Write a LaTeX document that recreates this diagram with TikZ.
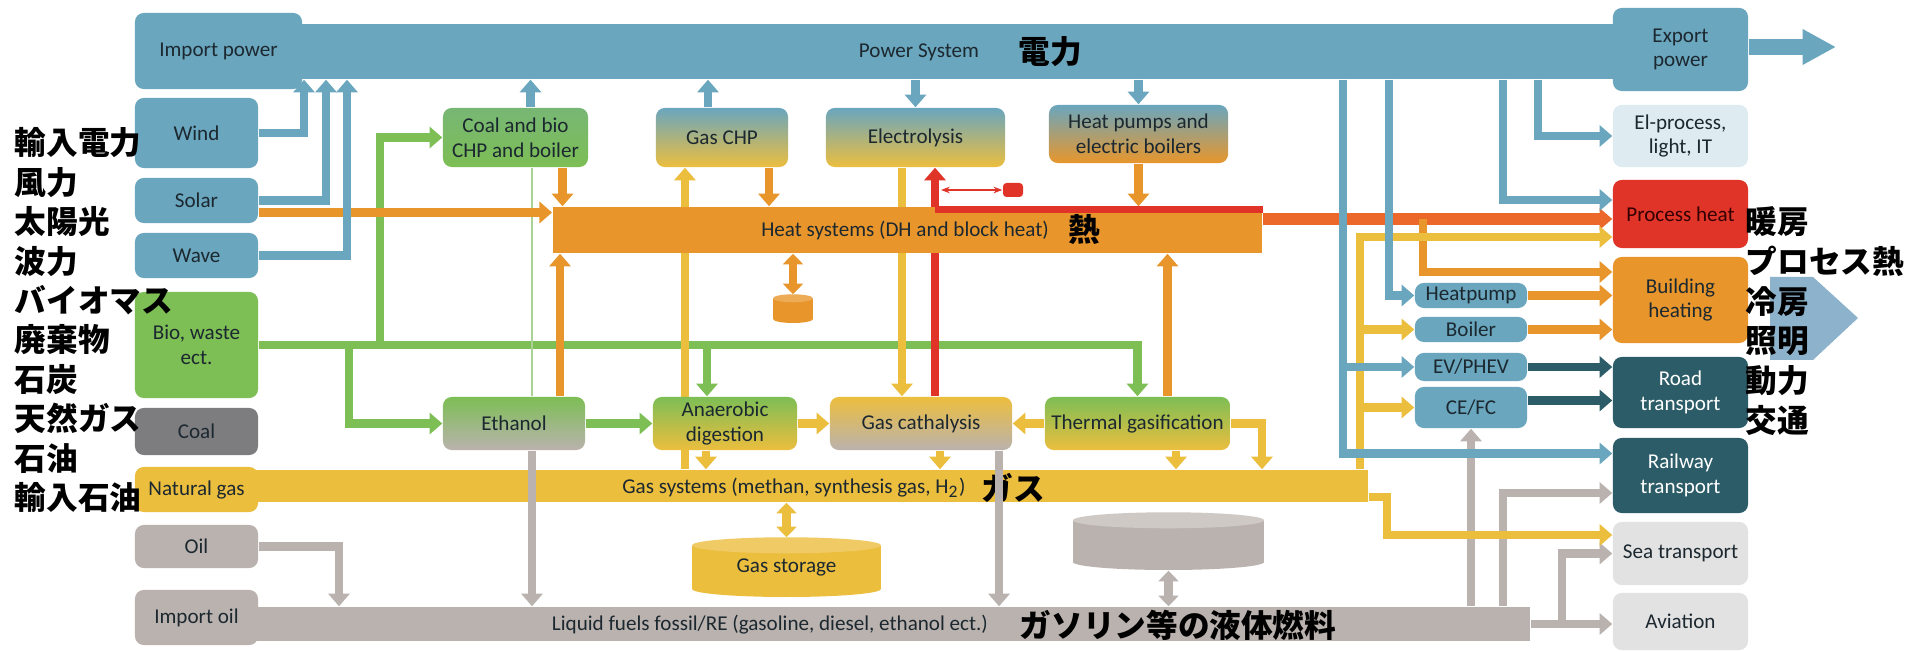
\documentclass[tikz,border=0pt]{standalone}
\usepackage{fontspec}
\setmainfont{Carlito}
\newfontfamily\cjk{Noto Sans CJK JP}
\usetikzlibrary{arrows.meta,backgrounds}

\definecolor{pblue}{RGB}{106,166,190}
\definecolor{bgreen}{RGB}{125,190,85}
\definecolor{lgreen}{RGB}{170,210,150}
\definecolor{coalgray}{RGB}{125,125,128}
\definecolor{gyellow}{RGB}{236,190,62}
\definecolor{oilgray}{RGB}{186,178,174}
\definecolor{horange}{RGB}{232,150,44}
\definecolor{hred}{RGB}{224,52,40}
\definecolor{ored}{RGB}{236,104,42}
\definecolor{dteal}{RGB}{44,92,104}
\definecolor{paleblue}{RGB}{222,236,242}
\definecolor{lgray}{RGB}{226,226,226}
\definecolor{chev}{RGB}{140,178,204}
\definecolor{boxtext}{RGB}{28,40,48}

\newcommand\lbl{\fontsize{6}{7}\selectfont}
\newcommand\jp{\cjk\bfseries\fontsize{9}{10}\selectfont}

\tikzset{
    box/.style={rounded corners=2.5pt, align=center, inner sep=1pt, font=\lbl, text=boxtext},
    barbox/.style={inner sep=0pt},
    jplabel/.style={font=\jp, inner sep=0pt, anchor=west},
    flowline/.style={line width=2.5pt, -{Triangle[length=3.6pt,width=6pt]}},
    twoway/.style={line width=2.5pt, {Triangle[length=3pt,width=5.6pt]}-{Triangle[length=3pt,width=5.6pt]}},
}

\begin{document}
\begin{tikzpicture}[x=0.01cm, y=-0.01cm]
        \useasboundingbox (0,0) rectangle (1911,652);
        \begin{pgfonlayer}{background}
            \fill[white] (0,0) rectangle (1911,652);
        \end{pgfonlayer}

        % the four systems
        \node[barbox, fill=pblue, minimum width=13.3cm, minimum height=.55cm] (power) at (951,51.5) {};
        \node[barbox, fill=horange, minimum width=7.09cm, minimum height=.46cm] (heat) at (907.5,230) {};
        \node[barbox, fill=gyellow, minimum width=11.18cm, minimum height=.32cm] (gas) at (809,486) {};
        \node[barbox, fill=oilgray, minimum width=12.8cm, minimum height=.34cm] (liquid) at (890,624) {};

        \node[font=\lbl, text=boxtext] (powerlbl) at (919,52) {Power System};
        \node[font=\jp] (powerjp) at (1050,52) {電力};
        \node[font=\lbl, text=boxtext] (heatlbl) at (905,230) {Heat systems (DH and block heat)};
        \node[font=\jp] (heatjp) at (1084,230) {熱};
        \node[font=\lbl, text=boxtext] (gaslbl) at (794,488) {Gas systems (methan, synthesis gas, H\textsubscript{2})};
        \node[font=\jp] (gasjp) at (1013,488) {ガス};
        \node[font=\lbl, text=boxtext] (liquidlbl) at (770,625) {Liquid fuels fossil/RE (gasoline, diesel, ethanol ect.)};
        \node[font=\jp] (liquidjp) at (1178,625) {ガソリン等の液体燃料};

        % sources
        \node[box, fill=pblue, minimum width=1.67cm, minimum height=.76cm] (importp) at (218.5,51) {Import power};
        \node[box, fill=pblue, minimum width=1.23cm, minimum height=.70cm] (wind) at (196.5,133) {Wind};
        \node[box, fill=pblue, minimum width=1.23cm, minimum height=.45cm] (solar) at (196.5,200.5) {Solar};
        \node[box, fill=pblue, minimum width=1.23cm, minimum height=.45cm] (wave) at (196.5,255.5) {Wave};
        \node[box, fill=bgreen, minimum width=1.23cm, minimum height=1.06cm] (bio) at (196.5,345) {Bio, waste\\ect.};
        \node[box, fill=coalgray, minimum width=1.23cm, minimum height=.47cm] (coal) at (196.5,431.5) {Coal};
        \node[box, fill=gyellow, minimum width=1.23cm, minimum height=.45cm] (natgas) at (196.5,489.5) {Natural gas};
        \node[box, fill=oilgray, minimum width=1.23cm, minimum height=.43cm] (oil) at (196.5,546.5) {Oil};
        \node[box, fill=oilgray, minimum width=1.23cm, minimum height=.55cm] (importoil) at (196.5,617.5) {Import oil};

        % conversion
        \node[box, top color=bgreen!70!pblue, bottom color=bgreen, minimum width=1.45cm, minimum height=.59cm] (coalchp) at (515.5,137.5) {Coal and bio\\CHP and boiler};
        \node[box, top color=pblue, bottom color=gyellow, minimum width=1.32cm, minimum height=.59cm] (gaschp) at (722,137.5) {Gas CHP};
        \node[box, top color=pblue, bottom color=gyellow, minimum width=1.79cm, minimum height=.59cm] (electro) at (915.5,137.5) {Electrolysis};
        \node[box, top color=pblue, bottom color=horange, minimum width=1.79cm, minimum height=.58cm] (heatpumps) at (1138.5,134) {Heat pumps and\\electric boilers};
        \node[box, top color=bgreen, bottom color=oilgray, minimum width=1.42cm, minimum height=.53cm] (ethanol) at (514,423.5) {Ethanol};
        \node[box, top color=bgreen, bottom color=gyellow, minimum width=1.44cm, minimum height=.53cm] (anaerobic) at (725,423.5) {Anaerobic\\digestion};
        \node[box, top color=gyellow, bottom color=oilgray, minimum width=1.82cm, minimum height=.53cm] (gascat) at (921,423.5) {Gas cathalysis};
        \node[box, top color=bgreen, bottom color=gyellow, minimum width=1.85cm, minimum height=.53cm] (thermal) at (1137.5,423.5) {Thermal gasification};

        \node[box, fill=pblue, minimum width=1.12cm, minimum height=.25cm] (heatpump) at (1471,295.5) {Heatpump};
        \node[box, fill=pblue, minimum width=1.12cm, minimum height=.25cm] (boiler) at (1471,329.5) {Boiler};
        \node[box, fill=pblue, minimum width=1.12cm, minimum height=.28cm] (evphev) at (1471,367) {EV/PHEV};
        \node[box, fill=pblue, minimum width=1.12cm, minimum height=.41cm] (cefc) at (1471,407.5) {CE/FC};

        % storages
        \fill[horange] (793,319) ellipse (.2cm and .04cm);
        \node[barbox, fill=horange, minimum width=.4cm, minimum height=.2cm] (heatstore) at (793,309) {};
        \fill[horange!80!white] (heatstore.north) ellipse (.2cm and .04cm);
        \fill[gyellow] (786.5,589) ellipse (.945cm and .08cm);
        \node[barbox, fill=gyellow, minimum width=1.89cm, minimum height=.43cm, font=\lbl, text=boxtext] (gasstore) at (786.5,567.5) {Gas storage};
        \fill[gyellow!80!white] (gasstore.north) ellipse (.945cm and .08cm);
        \fill[oilgray] (1168.5,562) ellipse (.955cm and .08cm);
        \node[barbox, fill=oilgray, minimum width=1.91cm, minimum height=.41cm] (oilstore) at (1168.5,541.5) {};
        \fill[oilgray!70!white] (oilstore.north) ellipse (.955cm and .08cm);
        \node[fill=hred, minimum width=.2cm, minimum height=.14cm, inner sep=0pt, rounded corners=1pt] (redstore) at (1013,190) {};

        % end use
        \node[box, fill=pblue, minimum width=1.35cm, minimum height=.83cm] (export) at (1680.5,49.5) {Export\\power};
        \node[box, fill=paleblue, minimum width=1.35cm, minimum height=.62cm] (elproc) at (1680.5,136) {El-process,\\light, IT};
        \node[box, fill=hred, minimum width=1.35cm, minimum height=.68cm, text=black!80!red] (procheat) at (1680.5,214) {Process heat};
        \node[box, fill=horange, minimum width=1.35cm, minimum height=.86cm] (buildheat) at (1680.5,300) {Building\\heating};
        \node[box, fill=dteal, minimum width=1.35cm, minimum height=.71cm, text=white] (road) at (1680.5,392.5) {Road\\transport};
        \node[box, fill=dteal, minimum width=1.35cm, minimum height=.75cm, text=white] (railway) at (1680.5,475.5) {Railway\\transport};
        \node[box, fill=lgray, minimum width=1.35cm, minimum height=.63cm] (sea) at (1680.5,553.5) {Sea transport};
        \node[box, fill=lgray, minimum width=1.35cm, minimum height=.57cm] (aviation) at (1680.5,621.5) {Aviation};

        % columns of the connectors
        \coordinate (xwind) at (304,0);
        \coordinate (xsolar) at (326,0);
        \coordinate (xwave) at (347,0);
        \coordinate (xgeth) at (349,0);
        \coordinate (xgbio) at (380,0);
        \coordinate (xoil) at (339,0);
        \coordinate (xtg) at (1262,0);
        \coordinate (xrail) at (1343,0);
        \coordinate (xgasv) at (1360,0);
        \coordinate (xsea) at (1387,0);
        \coordinate (xhp) at (1389,0);
        \coordinate (xbh) at (1423,0);
        \coordinate (xproc) at (1503,0);
        \coordinate (xlsea) at (1562,0);
        \coordinate (xelp) at (1538,0);
        \coordinate (hq) at ([yshift=-.05cm]procheat.west);
        \coordinate (seain) at ([yshift=.185cm]sea.west);
        \coordinate (redx) at ([xshift=.14cm]gascat.north);
        \coordinate (redtop) at ([yshift=-.035cm]heat.north east);
        \coordinate (exptip) at (1836,47);

        \begin{pgfonlayer}{background}
            % bio
            \draw[flowline, draw=bgreen] (bio.east) -| (thermal.north);
            \draw[flowline, draw=bgreen] (xgbio |- bio.east) |- (coalchp.west);
            \draw[flowline, draw=bgreen] (xgeth |- bio.east) |- (ethanol.west);
            \draw[flowline, draw=bgreen] ([xshift=-.18cm]anaerobic.north |- bio.east) -- ([xshift=-.18cm]anaerobic.north);
            \draw[flowline, draw=bgreen] (ethanol.east) -- (anaerobic.west);
            \draw[lgreen, line width=.7pt] ([xshift=.18cm]ethanol.north) -- ([xshift=.18cm]ethanol.north |- coalchp.south);

            % heat
            \draw[flowline, draw=horange] ([yshift=-.12cm]solar.east) -- ([yshift=-.12cm]solar.east -| heat.west);
            \draw[flowline, draw=horange] ([xshift=.47cm]coalchp.south) -- ([xshift=.47cm]coalchp.south |- heat.north);
            \draw[flowline, draw=horange] ([xshift=.47cm]gaschp.south) -- ([xshift=.47cm]gaschp.south |- heat.north);
            \draw[flowline, draw=horange] (heatpumps.south) -- (heatpumps.south |- heat.north);
            \draw[flowline, draw=horange] ([xshift=.46cm]ethanol.north) -- ([xshift=.46cm]ethanol.north |- heat.south);
            \draw[flowline, draw=horange] ([xshift=.3cm]thermal.north) -- ([xshift=.3cm]thermal.north |- heat.south);
            \draw[twoway, draw=horange] (heatstore.north |- heat.south) -- ([yshift=.04cm]heatstore.north);
            \draw[flowline, draw=ored, line width=3.2pt] (heat.east |- hq) -- (hq);
            \draw[flowline, draw=horange] (xbh |- hq) |- ([yshift=.28cm]buildheat.west);
            \draw[flowline, draw=horange] (heatpump.east) -- (heatpump.east -| buildheat.west);
            \draw[flowline, draw=horange] (boiler.east) -- (boiler.east -| buildheat.west);

            % oil
            \draw[flowline, draw=oilgray] (oil.east) -| (xoil |- liquid.north);
            \draw[flowline, draw=oilgray] (cefc.south |- liquid.north) -- (cefc.south);
            \draw[flowline, draw=oilgray] (xproc |- liquid.north) |- ([yshift=-.175cm]railway.west);
            \draw[flowline, draw=oilgray] (liquid.east) -- (liquid.east -| aviation.west);
            \draw[flowline, draw=oilgray] (xlsea |- liquid.east) |- (sea.west);
            \draw[twoway, draw=oilgray] (oilstore.south |- liquid.north) -- ([yshift=-.08cm]oilstore.south);

            % gas
            \draw[flowline, draw=gyellow] ([xshift=-.37cm]gaschp.south |- gas.north) -- ([xshift=-.37cm]gaschp.south);
            \draw[flowline, draw=gyellow] ([xshift=-.135cm]electro.south) -- ([xshift=-.135cm]electro.south |- gascat.north);
            \draw[flowline, draw=gyellow] (anaerobic.east) -- (gascat.west);
            \draw[flowline, draw=gyellow] (thermal.west) -- (gascat.east);
            \draw[flowline, draw=gyellow] ([xshift=-.19cm]anaerobic.south) -- ([xshift=-.19cm]anaerobic.south |- gas.north);
            \draw[flowline, draw=gyellow] ([xshift=.19cm]gascat.south) -- ([xshift=.19cm]gascat.south |- gas.north);
            \draw[flowline, draw=gyellow] ([xshift=.385cm]thermal.south) -- ([xshift=.385cm]thermal.south |- gas.north);
            \draw[flowline, draw=gyellow] (thermal.east) -| (xtg |- gas.north);
            \draw[flowline, draw=gyellow] (xgasv |- gas.north) |- ([yshift=-.23cm]procheat.west);
            \draw[flowline, draw=gyellow] (xgasv |- boiler.west) -- (boiler.west);
            \draw[flowline, draw=gyellow] (xgasv |- cefc.west) -- (cefc.west);
            \draw[flowline, draw=gyellow] ([yshift=-.11cm]gas.east) -| (xsea |- seain) -- (seain);
            \draw[twoway, draw=gyellow] (gasstore.north |- gas.south) -- ([yshift=.08cm]gasstore.north);

            % hydrogen
            \draw[flowline, draw=hred, line width=2.2pt] (redx) -- (redx |- electro.south);
            \draw[hred, line width=.8pt, {Stealth[length=2.5pt]}-{Stealth[length=2.5pt]}] ([xshift=.06cm]redx |- redstore.west) -- (redstore.west);

            % transport
            \draw[flowline, draw=dteal] (evphev.east) -- (evphev.east -| road.west);
            \draw[flowline, draw=dteal] ([yshift=.07cm]cefc.east) -- ([yshift=.07cm]cefc.east -| road.west);

            % power
            \draw[flowline, draw=pblue] (wind.east) -| (xwind |- power.south);
            \draw[flowline, draw=pblue] (solar.east) -| (xsolar |- power.south);
            \draw[flowline, draw=pblue] (wave.east) -| (xwave |- power.south);
            \draw[flowline, draw=pblue] ([xshift=.15cm]coalchp.north) -- ([xshift=.15cm]coalchp.north |- power.south);
            \draw[flowline, draw=pblue] ([xshift=-.14cm]gaschp.north) -- ([xshift=-.14cm]gaschp.north |- power.south);
            \draw[flowline, draw=pblue] (electro.north |- power.south) -- (electro.north);
            \draw[flowline, draw=pblue] (heatpumps.north |- power.south) -- (heatpumps.north);
            \draw[flowline, draw=pblue] (xelp |- power.south) |- (elproc.west);
            \draw[flowline, draw=pblue] (xproc |- power.south) |- ([yshift=.14cm]procheat.west);
            \draw[flowline, draw=pblue] (xhp |- power.south) |- (heatpump.west);
            \draw[flowline, draw=pblue] (xrail |- power.south) |- ([yshift=.22cm]railway.west);
            \draw[flowline, draw=pblue] (xrail |- evphev.west) -- (evphev.west);
        \end{pgfonlayer}

        % through the gas bar
        \draw[flowline, draw=oilgray] ([xshift=.18cm]ethanol.south) -- ([xshift=.18cm]ethanol.south |- liquid.north);
        \draw[flowline, draw=oilgray] ([xshift=.78cm]gascat.south) -- ([xshift=.78cm]gascat.south |- liquid.north);
        \draw[hred, line width=2pt] (redx |- redtop) -- (redtop);

        \draw[pblue, line width=4.8pt, -{Triangle[length=9.5pt,width=9.5pt]}] (export.east |- exptip) -- (exptip);

        % japanese labels
        \fill[chev] (1770,277) -- (1813,277) -- (1858,318) -- (1813,360) -- (1770,360) -- cycle;
        \foreach \txt [count=\i from 0] in {輸入電力,風力,太陽光,波力,バイオマス,廃棄物,石炭,天然ガス,石油,輸入石油}{
                \node[jplabel] (srcjp\i) at (14,{143+39.4*\i}) {\txt};
            }
        \foreach \txt [count=\i from 0] in {暖房,プロセス熱,冷房,照明,動力,交通}{
                \node[jplabel] (usejp\i) at (1745,{222+39.6*\i}) {\txt};
            }

    \end{tikzpicture}
\end{document}
